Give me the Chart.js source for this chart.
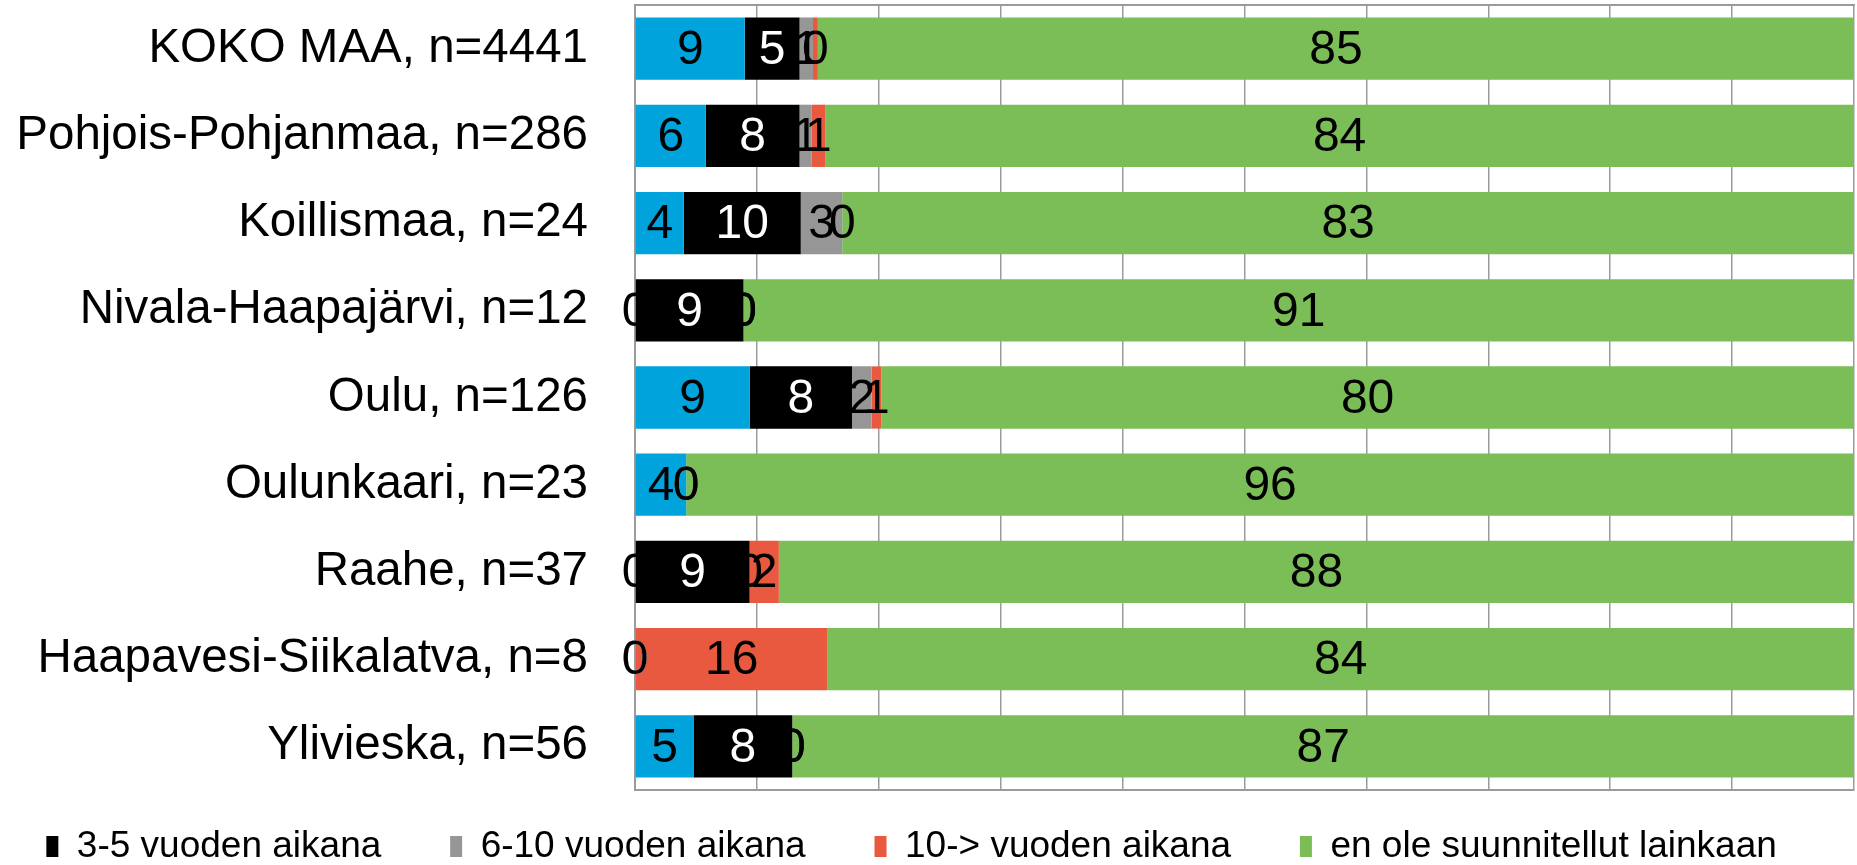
<!DOCTYPE html>
<html>
<head>
<meta charset="utf-8">
<script src="https://cdn.jsdelivr.net/npm/chart.js@4.4.1/dist/chart.umd.min.js"></script>
<style>
    html, body { margin: 0; padding: 0; background: #ffffff; }
    #wrap { width: 1857px; height: 865px; }
</style>
</head>
<body>
<div id="wrap"><canvas id="plans-chart"></canvas></div>
<script>
const regions = [
    'KOKO MAA, n=4441',
    'Pohjois-Pohjanmaa, n=286',
    'Koillismaa, n=24',
    'Nivala-Haapajärvi, n=12',
    'Oulu, n=126',
    'Oulunkaari, n=23',
    'Raahe, n=37',
    'Haapavesi-Siikalatva, n=8',
    'Ylivieska, n=56'
];

// % of respondents per region
const within1to2 = [9.0, 5.8, 4.0, 0, 9.4, 4.2, 0, 0, 4.8];
const within3to5 = [4.5, 7.7, 9.6, 8.9, 8.4, 0, 9.4, 0, 8.1];
const within6to10 = [1.1, 1.0, 3.4, 0, 1.6, 0, 0, 0, 0];
const after10 = [0.4, 1.1, 0, 0, 0.8, 0, 2.4, 15.8, 0];
const notPlanned = [85.0, 84.4, 83.0, 91.1, 79.8, 95.8, 88.2, 84.2, 87.1];

const fontFamily = "'Liberation Sans', Arial, sans-serif";
const gridColor = '#9b9b9b';

Chart.defaults.font.family = fontFamily;
Chart.defaults.color = '#000000';

// value labels centred in every segment, like the original
const segmentLabels = {
    id: 'segmentLabels',
    afterDatasetsDraw(chart) {
        const { ctx } = chart;
        ctx.save();
        ctx.font = '48px ' + fontFamily;
        ctx.textAlign = 'center';
        ctx.textBaseline = 'middle';
        chart.data.datasets.forEach((dataset, i) => {
            const meta = chart.getDatasetMeta(i);
            meta.data.forEach((bar, j) => {
                const value = dataset.data[j];
                if (value === null || value === undefined) return;
                const { x, base, y } = bar.getProps(['x', 'base', 'y'], true);
                ctx.fillStyle = dataset.labelColor;
                ctx.fillText(String(Math.round(value)), (x + base) / 2, y + 2);
            });
        });
        ctx.restore();
    }
};

const ctx = document.getElementById('plans-chart').getContext('2d');

new Chart(ctx, {
    type: 'bar',
    data: {
        labels: regions,
        datasets: [
            { label: '1-2 vuoden aikana', data: within1to2, backgroundColor: '#00a3db', labelColor: '#000000' },
            { label: '3-5 vuoden aikana', data: within3to5, backgroundColor: '#000000', labelColor: '#ffffff' },
            { label: '6-10 vuoden aikana', data: within6to10, backgroundColor: '#969696', labelColor: '#000000' },
            { label: '10-> vuoden aikana', data: after10, backgroundColor: '#e8593f', labelColor: '#000000' },
            { label: 'en ole suunnitellut lainkaan', data: notPlanned, backgroundColor: '#7bbd57', labelColor: '#000000' }
        ]
    },
    options: {
        indexAxis: 'y',
        responsive: true,
        maintainAspectRatio: false,
        animation: false,
        layout: { padding: { top: 5, right: 3, bottom: 0, left: 0 } },
        datasets: {
            bar: { categoryPercentage: 1, barPercentage: 0.714, borderWidth: 0 }
        },
        scales: {
            x: {
                stacked: true,
                min: 0,
                max: 100,
                ticks: { display: false, stepSize: 10 },
                grid: { color: gridColor, lineWidth: 1.5, drawTicks: false },
                border: { color: gridColor, width: 2 }
            },
            x2: {
                type: 'linear',
                position: 'top',
                min: 0,
                max: 100,
                ticks: { display: false },
                grid: { display: false, drawTicks: false },
                border: { color: gridColor, width: 2 }
            },
            y: {
                stacked: true,
                grid: { display: false, drawTicks: false },
                border: { color: gridColor, width: 2 },
                ticks: { color: '#000000', font: { size: 47.5 }, padding: 47, autoSkip: false },
                afterFit: scale => {
                    // tick padding only meant horizontally
                    scale.width = 635;
                    scale.paddingTop = 0;
                    scale.paddingBottom = 0;
                }
            }
        },
        plugins: {
            legend: {
                display: true,
                position: 'bottom',
                maxHeight: 75,
                labels: {
                    color: '#000000',
                    font: { size: 37 },
                    boxWidth: 12,
                    boxHeight: 21,
                    padding: 38,
                    filter: item => item.datasetIndex !== 0,
                    generateLabels: chart => Chart.defaults.plugins.legend.labels.generateLabels(chart)
                        .map(item => ({ ...item, text: item.text + '\u00a0\u00a0\u00a0' }))
                }
            },
            tooltip: { enabled: false }
        }
    },
    plugins: [segmentLabels]
});
</script>
</body>
</html>
